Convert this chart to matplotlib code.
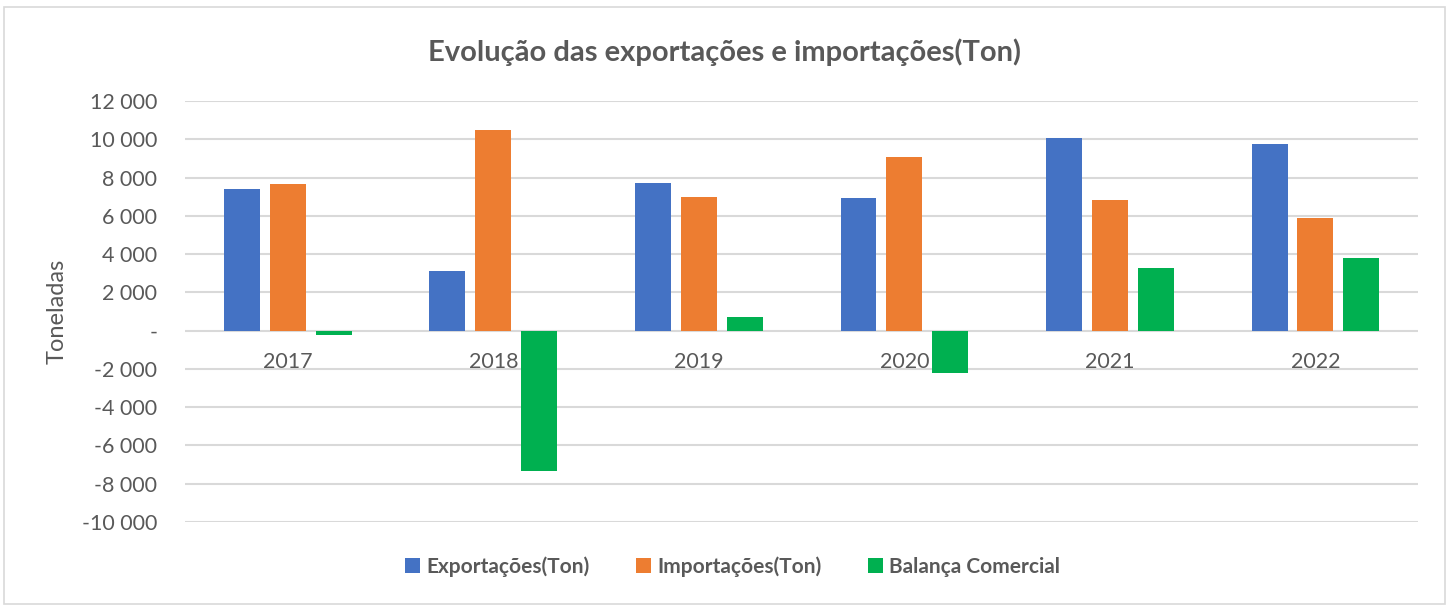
import numpy as np
from matplotlib import pyplot as plt
from matplotlib.patches import Rectangle
from matplotlib.ticker import FuncFormatter

plt.rcParams['font.family'] = ['Lato', 'DejaVu Sans']

anos = ['2017', '2018', '2019', '2020', '2021', '2022']
exportacoes = [7410, 3140, 7740, 6910, 10080, 9730]
importacoes = [7640, 10500, 7010, 9100, 6820, 5910]
balanca = [-250, -7350, 730, -2200, 3260, 3820]

cinza = '#595959'
cor_exp = '#4472C4'
cor_imp = '#ED7D31'
cor_bal = '#00B050'

fig = plt.figure(figsize=(14.49, 6.06), dpi=100)
fig.patches.append(Rectangle((0.003, 0.003), 0.994, 0.985, transform=fig.transFigure,
                             fill=False, edgecolor='#d9d9d9', linewidth=1.2))
ax = fig.add_axes([0.1277, 0.1386, 0.851, 0.6947])

x = np.arange(len(anos))
w = 0.175
d = 0.223
ax.bar(x - d, exportacoes, w, color=cor_exp, label='Exportações(Ton)', zorder=3)
ax.bar(x, importacoes, w, color=cor_imp, label='Importações(Ton)', zorder=3)
ax.bar(x + d, balanca, w, color=cor_bal, label='Balança Comercial', zorder=3)

ax.set_xlim(-0.5, len(anos) - 0.5)
ax.set_ylim(-10000, 12000)
ax.set_yticks(np.arange(-10000, 12001, 2000))


def fmt(v, pos):
    if v == 0:
        return '-'
    return '{:,.0f}'.format(v).replace(',', ' ')


ax.yaxis.set_major_formatter(FuncFormatter(fmt))
ax.grid(axis='y', color='#d9d9d9', linewidth=1.5, zorder=0)
ax.set_xticks([])
for s in ax.spines.values():
    s.set_visible(False)
ax.tick_params(axis='y', length=0, pad=20, labelsize=15.5, labelcolor=cinza)

# rotulos das categorias junto ao eixo zero
for i, a in enumerate(anos):
    ax.annotate(a, (i, 0), xytext=(0, -31), textcoords='offset pixels',
                ha='center', va='center', fontsize=15.5, color=cinza)

ax.set_ylabel('Toneladas', fontsize=17, color=cinza, labelpad=10)
fig.suptitle('Evolução das exportações e importações(Ton)', y=0.936,
             fontsize=21, fontweight='bold', color=cinza)

leg = ax.legend(loc='center', bbox_to_anchor=(0.444, -0.105), ncol=3, frameon=False,
                handlelength=0.75, handleheight=0.75, handletextpad=0.3, columnspacing=2.2,
                prop={'size': 15, 'weight': 'bold'})
for t in leg.get_texts():
    t.set_color(cinza)

plt.savefig('out.png', dpi=100)
